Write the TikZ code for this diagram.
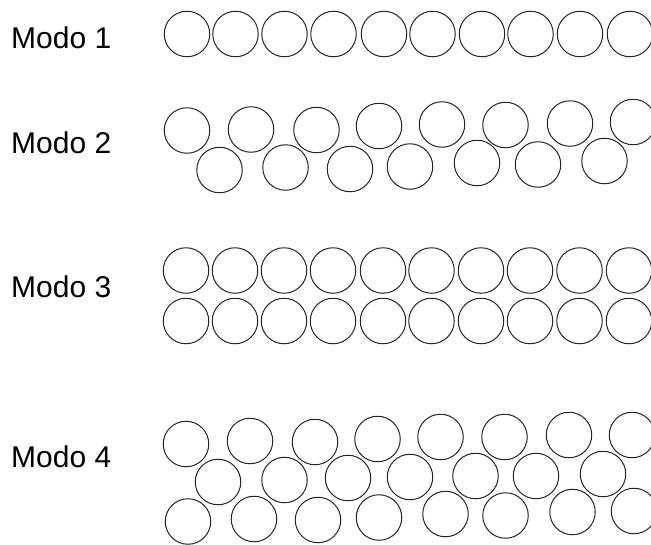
\documentclass[tikz,border=0pt]{standalone}
\usepackage{fontspec}
\setmainfont{Liberation Sans}

\begin{document}
\begin{tikzpicture}[
  x=1pt, y=-1pt,
  ball/.style={draw=black!85, line width=1pt},
  modo/.style={anchor=base west, inner sep=0pt, font=\fontsize{30}{36}\selectfont},
]
\useasboundingbox (0,0) rectangle (651,544);

% Labels on the left
\node[modo] (m1) at (11,48) {Modo 1};
\node[modo] (m2) at (11,153) {Modo 2};
\node[modo] (m3) at (11,297) {Modo 3};
\node[modo] (m4) at (11,467) {Modo 4};

% Modo 1: one straight row
\foreach \x in {187,235.5,284.5,333.5,384,432.5,482,530.5,580,630}
  \draw[ball] (\x,34) circle (22.75pt);

% Modo 2: two staggered rows
\foreach \x/\y in {187/130.5,251/129.5,316.5/130,379/126,442/124.5,505.5/125,570/123.5,633/122}
  \draw[ball] (\x,\y) circle (22.75pt);
\foreach \x/\y in {219.5/170,285.5/167.5,350/169,410/166.5,477/163,538/164.5,604.5/161}
  \draw[ball] (\x,\y) circle (22.75pt);

% Modo 3: two aligned rows
\foreach \x in {186,235,284,333,383,431.5,481,530,579.5,629}{
  \draw[ball] (\x,270.5) circle (22.75pt);
  \draw[ball] (\x,321) circle (22.75pt);
}

% Modo 4: three staggered rows
\foreach \x/\y in {186/444,250/441,315/442,377.5/439,440.5/437,504.5/437,569/435,632/435}
  \draw[ball] (\x,\y) circle (22.75pt);
\foreach \x/\y in {218/482,284.5/480,348/478,410/477,475.5/476,536/476,603/474}
  \draw[ball] (\x,\y) circle (22.75pt);
\foreach \x/\y in {188/521.5,254/519,318/520,379/517.5,445.5/514,505.5/515.5,572.5/512,634/511}
  \draw[ball] (\x,\y) circle (22.75pt);

\end{tikzpicture}
\end{document}
